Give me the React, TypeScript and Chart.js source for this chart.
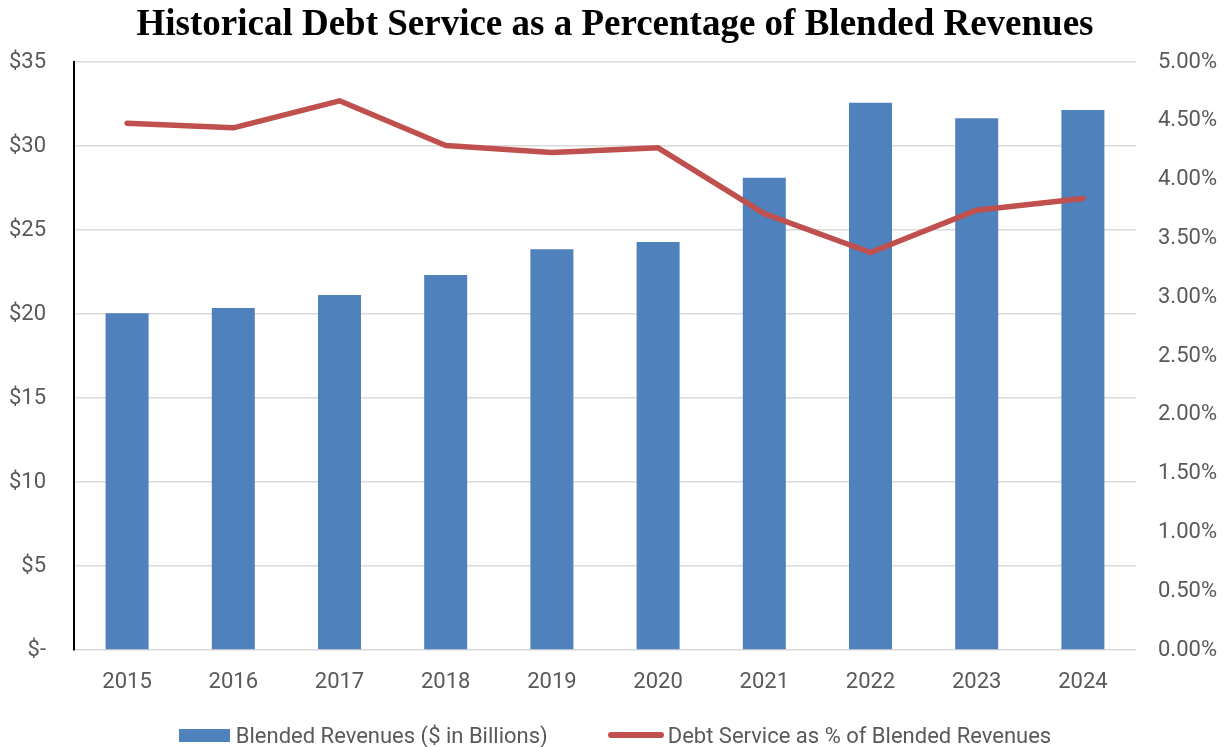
import React, { useEffect, useRef } from "react";
import { Chart, registerables } from "chart.js";

Chart.register(...registerables);

const TITLE = "Historical Debt Service as a Percentage of Blended Revenues";
const years = ["2015", "2016", "2017", "2018", "2019", "2020", "2021", "2022", "2023", "2024"];
const blendedRevenues = [20.04, 20.36, 21.13, 22.32, 23.85, 24.29, 28.11, 32.58, 31.65, 32.14];
const debtServicePct = [4.48, 4.44, 4.67, 4.29, 4.23, 4.27, 3.71, 3.38, 3.74, 3.84];
const revenueLabel = "Blended Revenues ($ in Billions)";
const pctLabel = "Debt Service as % of Blended Revenues";

const BAR_COLOR = "#4F81BD";
const LINE_COLOR = "#C0504D";
const TEXT_COLOR = "#595959";
const TICK_FONT = "Roboto, 'Liberation Sans', sans-serif";

export default function App() {
  const canvasRef = useRef<HTMLCanvasElement | null>(null);

  useEffect(() => {
    document.body.style.margin = "0";
    const canvas = canvasRef.current;
    if (!canvas) return;
    const chart = new Chart(canvas, {
      data: {
        labels: years,
        datasets: [
          {
            type: "line",
            label: pctLabel,
            data: debtServicePct,
            yAxisID: "y1",
            borderColor: LINE_COLOR,
            backgroundColor: LINE_COLOR,
            borderWidth: 5.5,
            pointRadius: 0,
            tension: 0,
            borderCapStyle: "round",
            borderJoinStyle: "round",
            order: 0,
          },
          {
            type: "bar",
            label: revenueLabel,
            data: blendedRevenues,
            yAxisID: "y",
            backgroundColor: BAR_COLOR,
            borderWidth: 0,
            categoryPercentage: 1,
            barPercentage: 0.405,
            order: 1,
          },
        ],
      },
      options: {
        responsive: false,
        animation: false,
        layout: { padding: 0 },
        plugins: {
          legend: { display: false },
          tooltip: { enabled: false },
          title: {
            display: true,
            text: TITLE,
            color: "#000000",
            font: { family: "'Liberation Serif', 'Times New Roman', serif", size: 37, weight: "bold" },
            padding: { top: 3, bottom: 14.6 },
          },
        },
        scales: {
          x: {
            grid: { display: false, drawTicks: false },
            border: { display: false },
            ticks: {
              color: TEXT_COLOR,
              font: { family: TICK_FONT, size: 22 },
              padding: 19,
              maxRotation: 0,
            },
            afterFit: (s: any) => {
              s.height = 97;
            },
          },
          y: {
            position: "left",
            min: 0,
            max: 35,
            ticks: {
              stepSize: 5,
              color: TEXT_COLOR,
              font: { family: TICK_FONT, size: 22 },
              padding: 28,
              callback: (v: any) => (Number(v) === 0 ? "$-" : "$" + v),
            },
            grid: { color: "#D9D9D9", lineWidth: 1.5, drawTicks: false },
            border: { display: true, color: "#000000", width: 2 },
            afterFit: (s: any) => {
              s.width = 74;
            },
          },
          y1: {
            position: "right",
            min: 0,
            max: 5,
            ticks: {
              stepSize: 0.5,
              color: TEXT_COLOR,
              font: { family: TICK_FONT, size: 22 },
              padding: 22,
              callback: (v: any) => Number(v).toFixed(2) + "%",
            },
            grid: { display: false, drawTicks: false },
            border: { display: false },
            afterFit: (s: any) => {
              s.width = 94;
            },
          },
        },
      },
    });
    return () => chart.destroy();
  }, []);

  return (
    <div style={{ position: "relative", width: 1230, height: 747 }}>
      <canvas ref={canvasRef} width={1230} height={747} style={{ display: "block" }} />
      <div
        style={{
          position: "absolute",
          left: 0,
          top: 722,
          width: 1230,
          height: 26,
          display: "flex",
          justifyContent: "center",
          alignItems: "center",
          fontFamily: TICK_FONT,
          fontSize: 22,
          color: TEXT_COLOR,
          whiteSpace: "nowrap",
        }}
      >
        <div style={{ display: "flex", alignItems: "center" }}>
          <span style={{ display: "inline-block", width: 51, height: 13, background: BAR_COLOR, marginRight: 6 }} />
          <span>{revenueLabel}</span>
        </div>
        <div style={{ display: "flex", alignItems: "center", marginLeft: 60 }}>
          <span
            style={{ display: "inline-block", width: 56, height: 6, borderRadius: 3, background: LINE_COLOR, marginRight: 4 }}
          />
          <span>{pctLabel}</span>
        </div>
      </div>
    </div>
  );
}
